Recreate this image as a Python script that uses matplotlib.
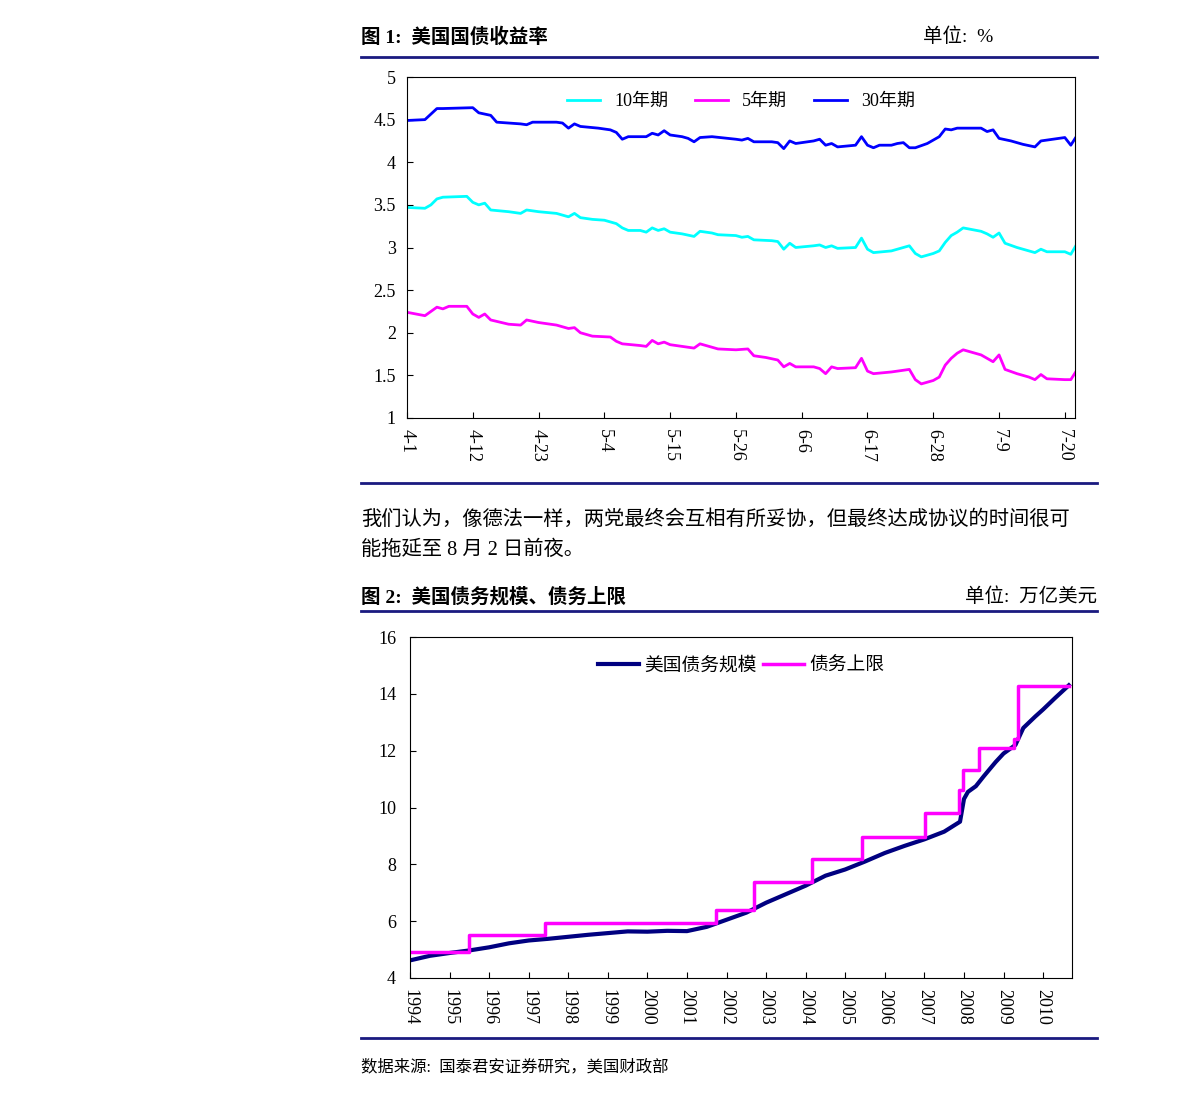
import matplotlib
matplotlib.use("Agg")
import matplotlib.pyplot as plt
from matplotlib.lines import Line2D

plt.rcParams['font.family'] = ['Liberation Serif', 'Noto Sans CJK SC', 'DejaVu Sans']

# ---- Chart 1 data (day index from 4-1) ----
d30 = [0,3,5,6,11,12,14,15,19,20,21,25,26,27,28,29,32,34,35,36,37,40,41,42,43,44,46,47,48,49,51,55,56,57,58,61,62,63,64,65,68,69,70,71,72,75,76,77,78,79,81,82,83,84,85,87,89,90,91,92,96,97,98,99,101,103,105,106,108,110,111,112]
y30 = [4.49,4.50,4.63,4.63,4.64,4.58,4.55,4.47,4.45,4.44,4.47,4.47,4.46,4.40,4.45,4.42,4.40,4.38,4.35,4.27,4.30,4.30,4.34,4.32,4.37,4.32,4.30,4.28,4.24,4.29,4.30,4.27,4.26,4.28,4.24,4.24,4.23,4.16,4.25,4.22,4.25,4.27,4.20,4.22,4.18,4.20,4.30,4.20,4.17,4.20,4.20,4.22,4.23,4.17,4.17,4.22,4.30,4.39,4.38,4.40,4.40,4.36,4.38,4.28,4.25,4.21,4.18,4.25,4.27,4.29,4.20,4.31]
d10 = [0,3,4,5,6,10,11,12,13,14,17,19,20,22,25,27,28,29,31,33,35,36,37,39,40,41,42,43,44,46,48,49,51,52,55,56,57,58,61,62,63,64,65,68,69,70,71,72,75,76,77,78,81,82,83,84,85,86,88,89,90,91,92,93,96,97,98,99,100,102,104,105,106,107,110,111,112]
y10 = [3.47,3.46,3.50,3.57,3.59,3.60,3.53,3.50,3.52,3.44,3.42,3.40,3.44,3.42,3.40,3.36,3.40,3.35,3.33,3.32,3.28,3.23,3.20,3.20,3.18,3.23,3.20,3.22,3.18,3.16,3.13,3.19,3.17,3.15,3.14,3.12,3.13,3.09,3.08,3.07,2.98,3.05,3.00,3.02,3.03,3.00,3.02,2.99,3.00,3.11,2.98,2.94,2.96,2.98,3.00,3.02,2.93,2.89,2.93,2.96,3.06,3.14,3.18,3.23,3.19,3.16,3.12,3.17,3.05,3.00,2.96,2.94,2.98,2.95,2.95,2.92,3.04]
d5 = [0,3,4,5,6,7,10,11,12,13,14,17,19,20,22,25,27,28,29,31,34,35,36,39,40,41,42,43,44,46,48,49,51,52,55,57,58,60,62,63,64,65,68,69,70,71,72,75,76,77,78,81,83,84,85,86,88,89,90,91,92,93,96,97,98,99,100,102,104,105,106,107,110,111,112]
y5 = [2.24,2.20,2.25,2.30,2.28,2.31,2.31,2.22,2.18,2.22,2.15,2.10,2.09,2.15,2.12,2.09,2.05,2.06,2.00,1.96,1.95,1.90,1.87,1.85,1.84,1.91,1.87,1.89,1.86,1.84,1.82,1.87,1.83,1.81,1.80,1.81,1.73,1.71,1.68,1.60,1.64,1.60,1.60,1.58,1.52,1.60,1.58,1.59,1.70,1.55,1.52,1.54,1.56,1.57,1.45,1.40,1.44,1.48,1.62,1.70,1.76,1.80,1.74,1.70,1.66,1.74,1.57,1.52,1.48,1.45,1.51,1.46,1.45,1.45,1.56]
xtick1_pos = [0,11,22,33,44,55,66,77,88,99,110]
xtick1_lab = ['4-1','4-12','4-23','5-4','5-15','5-26','6-6','6-17','6-28','7-9','7-20']

# ---- Chart 2 data ----
ceil_x = [1994.0,1995.49,1997.41,2001.73,2002.70,2004.16,2005.43,2007.02,2007.88,2007.98,2008.38,2009.27,2009.37,2010.65]
ceil_y = [4.9,5.5,5.95,6.4,7.38,8.18,8.96,9.82,10.62,11.32,12.10,12.40,14.29,14.29]
debt_x = [1994.0,1994.5,1995.0,1995.5,1996.0,1996.5,1997.0,1997.5,1998.0,1998.5,1999.0,1999.5,2000.0,2000.5,2001.0,2001.5,2002.0,2002.5,2003.0,2003.5,2004.0,2004.5,2005.0,2005.5,2006.0,2006.5,2007.0,2007.5,2007.9,2008.0,2008.1,2008.3,2008.5,2008.8,2009.0,2009.3,2009.5,2009.8,2010.0,2010.3,2010.65]
debt_y = [4.62,4.78,4.88,4.97,5.08,5.22,5.32,5.38,5.45,5.52,5.58,5.64,5.63,5.66,5.65,5.80,6.05,6.30,6.65,6.95,7.25,7.60,7.82,8.10,8.40,8.65,8.88,9.15,9.50,10.30,10.55,10.75,11.10,11.60,11.90,12.20,12.80,13.20,13.45,13.85,14.30]
years = list(range(1994, 2011))

W, H = 1191, 1097
fig = plt.figure(figsize=(W/100, H/100), dpi=100)

def fx(p): return p / W
def fy(p): return 1 - p / H

navy = '#1a1a80'
for yy in [57, 483, 611, 1038]:
    fig.add_artist(Line2D([fx(361), fx(1097)], [fy(yy), fy(yy)], color=navy, lw=2))

fig.text(fx(361), fy(37), '图 1:  美国国债收益率', fontsize=14, fontweight='bold', va='center')
fig.text(fx(923), fy(37), '单位:  %', fontsize=14, va='center')
fig.text(fx(361), fy(597), '图 2:  美国债务规模、债务上限', fontsize=14, fontweight='bold', va='center')
fig.text(fx(1097), fy(597), '单位:  万亿美元', fontsize=14, va='center', ha='right')
fig.text(fx(361), fy(520), '我们认为，像德法一样，两党最终会互相有所妥协，但最终达成协议的时间很可', fontsize=14.6, va='center')
fig.text(fx(361), fy(550), '能拖延至 8 月 2 日前夜。', fontsize=14.6, va='center')
fig.text(fx(361), fy(1067), '数据来源:  国泰君安证券研究，美国财政部', fontsize=11.8, va='center')

# chart 1
ax1 = fig.add_axes([fx(407), fy(418), (1075-407)/W, (418-77)/H])
ax1.plot(d10, y10, color='#00ffff', lw=2, label='10年期')
ax1.plot(d5, y5, color='#ff00ff', lw=2, label='5年期')
ax1.plot(d30, y30, color='#0000ff', lw=2, label='30年期')
ax1.set_xlim(0, 111.7)
ax1.set_ylim(1, 5)
ax1.set_yticks([1,1.5,2,2.5,3,3.5,4,4.5,5])
ax1.set_yticklabels(['1','1.5','2','2.5','3','3.5','4','4.5','5'], fontsize=13)
ax1.set_xticks(xtick1_pos)
ax1.set_xticklabels(xtick1_lab, rotation=270, fontsize=13)
ax1.tick_params(direction='in', length=4)
ax1.tick_params(axis='x', pad=8)
ax1.tick_params(axis='y', pad=8)
ax1.legend(loc='upper center', ncol=3, frameon=False, fontsize=13, handlelength=1.8,
           columnspacing=1.5, bbox_to_anchor=(0.5, 1.0))

# chart 2
ax2 = fig.add_axes([fx(410), fy(978), (1072-410)/W, (978-637)/H])
ax2.plot(debt_x, debt_y, color='#000080', lw=3, label='美国债务规模')
ax2.step(ceil_x, ceil_y, where='post', color='#ff00ff', lw=2.5, label='债务上限')
ax2.set_xlim(1994, 2010.73)
ax2.set_ylim(4, 16)
ax2.set_yticks([4,6,8,10,12,14,16])
ax2.set_yticklabels(['4','6','8','10','12','14','16'], fontsize=13)
ax2.set_xticks(years)
ax2.set_xticklabels([str(y) for y in years], rotation=270, fontsize=13)
ax2.tick_params(direction='in', length=4)
ax2.tick_params(axis='x', pad=8)
ax2.tick_params(axis='y', pad=10)
ax2.legend(loc='upper center', ncol=2, frameon=False, fontsize=13.5, handlelength=2.2,
           columnspacing=0.3, handletextpad=0.3, bbox_to_anchor=(0.5, 0.99))

fig.savefig('out.png', dpi=100)
